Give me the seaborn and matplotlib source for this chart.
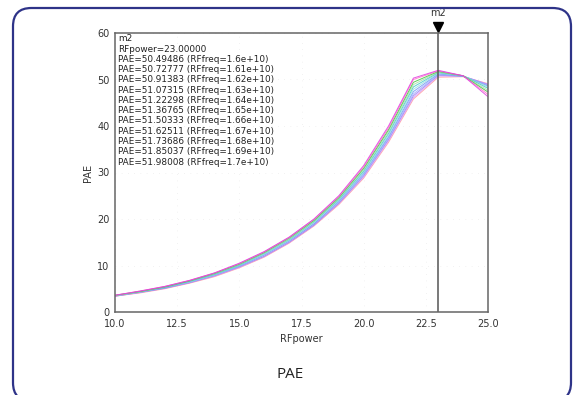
import matplotlib
matplotlib.use("Agg")
import matplotlib.pyplot as plt
from matplotlib.patches import FancyBboxPatch
import matplotlib.transforms as mtransforms
import seaborn as sns
import pandas as pd

# ---- data ----
rf_power = [10, 11, 12, 13, 14, 15, 16, 17, 18, 19, 20, 21, 22, 23, 24, 25]
rf_freq_labels = ["1.6e+10", "1.61e+10", "1.62e+10", "1.63e+10", "1.64e+10", "1.65e+10",
                  "1.66e+10", "1.67e+10", "1.68e+10", "1.69e+10", "1.7e+10"]
pae_160 = [3.4, 4.1, 5.0, 6.2, 7.6, 9.5, 11.8, 14.8, 18.5, 23.1, 28.8, 36.5, 45.8, 50.49486, 50.6, 49.1]
pae_161 = [3.4, 4.2, 5.1, 6.3, 7.7, 9.6, 11.9, 14.9, 18.6, 23.3, 29.0, 36.8, 46.1, 50.72777, 50.7, 49.0]
pae_162 = [3.4, 4.2, 5.1, 6.3, 7.8, 9.7, 12.0, 15.0, 18.7, 23.4, 29.3, 37.1, 46.5, 50.91383, 50.7, 48.9]
pae_163 = [3.5, 4.3, 5.2, 6.4, 7.9, 9.8, 12.2, 15.2, 18.9, 23.6, 29.5, 37.4, 46.9, 51.07315, 50.7, 48.8]
pae_164 = [3.5, 4.3, 5.2, 6.5, 8.0, 9.9, 12.3, 15.3, 19.0, 23.8, 29.8, 37.7, 47.4, 51.22298, 50.7, 48.6]
pae_165 = [3.5, 4.3, 5.3, 6.5, 8.0, 10.0, 12.4, 15.4, 19.2, 24.0, 30.0, 38.0, 47.9, 51.36765, 50.8, 48.4]
pae_166 = [3.5, 4.4, 5.3, 6.6, 8.1, 10.1, 12.6, 15.6, 19.4, 24.2, 30.3, 38.4, 48.4, 51.50333, 50.8, 48.1]
pae_167 = [3.5, 4.4, 5.4, 6.7, 8.2, 10.2, 12.7, 15.7, 19.5, 24.4, 30.6, 38.8, 48.9, 51.62511, 50.8, 47.7]
pae_168 = [3.6, 4.4, 5.4, 6.7, 8.3, 10.3, 12.8, 15.9, 19.7, 24.6, 30.9, 39.2, 49.4, 51.73686, 50.8, 47.3]
pae_169 = [3.6, 4.5, 5.5, 6.8, 8.4, 10.4, 12.9, 16.0, 19.9, 24.8, 31.2, 39.6, 50.0, 51.85037, 50.8, 46.8]
pae_170 = [3.6, 4.5, 5.5, 6.8, 8.4, 10.5, 13.0, 16.1, 20.0, 25.0, 31.5, 40.0, 50.3, 51.98008, 50.8, 46.3]
pae_series = [pae_160, pae_161, pae_162, pae_163, pae_164, pae_165,
              pae_166, pae_167, pae_168, pae_169, pae_170]
marker_power = 23.0
marker_name = "m2"
x_ticks = [10.0, 12.5, 15.0, 17.5, 20.0, 22.5, 25.0]
y_ticks = [0, 10, 20, 30, 40, 50, 60]
caption = "PAE"

line_colors = ["#ff9a9a", "#d9a0ff", "#a07cf0", "#9fb0ff", "#6f95f5", "#99e0e0",
               "#40c8c8", "#a6e0a6", "#3cc43c", "#ff70c8", "#e03ce0"]

rows = []
for lab, ser in zip(rf_freq_labels, pae_series):
    for xp, yv in zip(rf_power, ser):
        rows.append({"RFpower": xp, "PAE": yv, "RFfreq": lab})
df = pd.DataFrame(rows)

sns.set_style("white")
plt.rcParams["font.family"] = ["DejaVu Sans"]

fig = plt.figure(figsize=(5.74, 3.95), dpi=100)
fig.patch.set_facecolor("white")

# outer rounded frame
frame = FancyBboxPatch((13 / 574, -6 / 395), (571 - 13) / 574, (395 - 8 + 6) / 395,
                       boxstyle="round,pad=0,rounding_size=0.032",
                       transform=fig.transFigure, facecolor="none",
                       edgecolor="#2e3388", linewidth=1.6, mutation_aspect=574 / 395,
                       clip_on=False)
fig.patches.append(frame)

ax = fig.add_axes([115 / 574, 1 - 312 / 395, (488 - 115) / 574, (312 - 33) / 395])
sns.lineplot(data=df, x="RFpower", y="PAE", hue="RFfreq", palette=line_colors,
             legend=False, linewidth=0.7, alpha=0.85, ax=ax, sort=False)

ax.set_xlim(10, 25)
ax.set_ylim(0, 60)
ax.set_xticks(x_ticks)
ax.set_yticks(y_ticks)
ax.set_xticklabels([f"{t:.1f}" for t in x_ticks])
ax.tick_params(axis="both", labelsize=7, colors="#333333", length=0)
ax.tick_params(axis="x", pad=5)
ax.tick_params(axis="y", pad=4)
for s in ax.spines.values():
    s.set_color("#666666")
    s.set_linewidth(1.1)
ax.grid(True, linestyle=(0, (1, 8)), color="#e6e6e6", linewidth=0.5)
ax.set_xlabel("RFpower", fontsize=7, color="#333333", labelpad=4)
ax.set_ylabel("PAE", fontsize=7, color="#333333", labelpad=3)

# marker
ax.axvline(marker_power, color="#555555", linewidth=1.1)
tri_tr = mtransforms.offset_copy(ax.transData, fig=fig, x=0, y=4.5, units="points")
ax.plot([marker_power], [60], marker="v", color="black", markersize=7.5,
        clip_on=False, transform=tri_tr)
ax.annotate(marker_name, xy=(marker_power, 60), xytext=(0, 11), textcoords="offset points",
            ha="center", va="bottom", fontsize=7, color="#333333", annotation_clip=False)

# marker readout
lines = [marker_name, f"RFpower={marker_power:.5f}"]
for lab, ser in zip(rf_freq_labels, pae_series):
    lines.append(f"PAE={ser[rf_power.index(int(marker_power))]:.5f} (RFfreq={lab})")
ax.text(0.008, 0.995, "\n".join(lines), transform=ax.transAxes, ha="left", va="top",
        fontsize=6.4, color="#222222", linespacing=1.18)

fig.text(290 / 574, 1 - 375 / 395, caption, ha="center", va="center", fontsize=11,
         color="#222222", family=["Open Sans", "DejaVu Sans"])

fig.savefig("out.png", dpi=100, facecolor="white")
